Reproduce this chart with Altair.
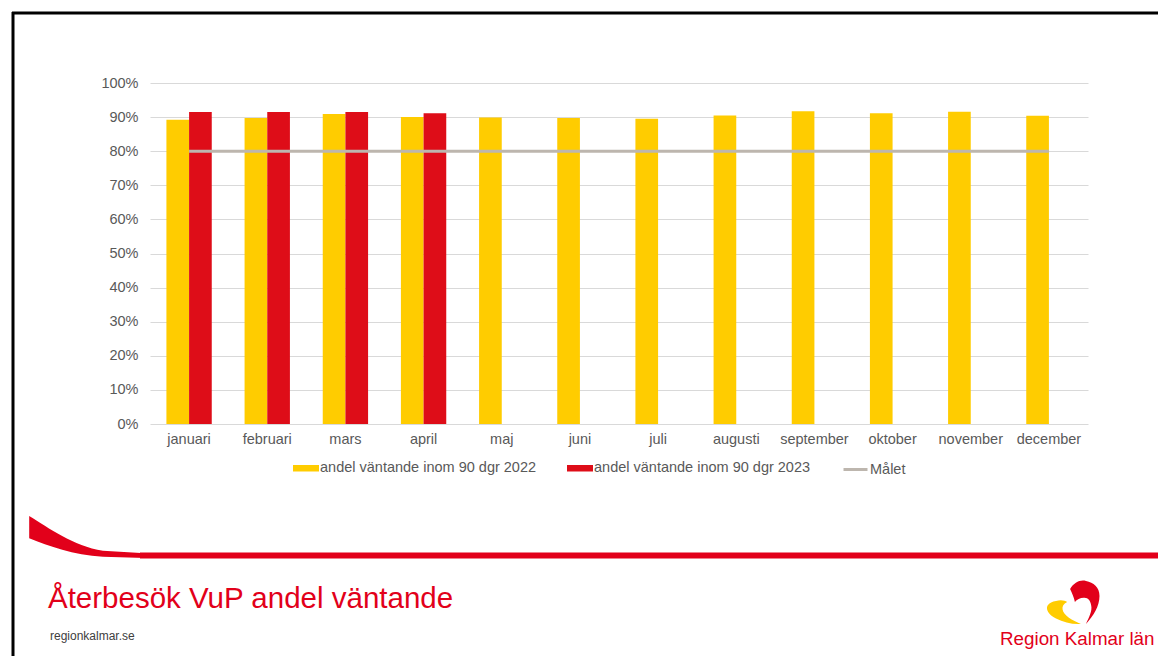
import altair as alt
import pandas as pd

# ---- data ----
months = ["januari", "februari", "mars", "april", "maj", "juni", "juli",
          "augusti", "september", "oktober", "november", "december"]
v2022 = [89.2, 89.7, 90.9, 90.0, 89.9, 89.7, 89.5, 90.5, 91.7, 91.1, 91.6, 90.4]
v2023 = [91.5, 91.5, 91.5, 91.1]
goal = [80] * 12
lab2022 = "andel väntande inom 90 dgr 2022"
lab2023 = "andel väntande inom 90 dgr 2023"
labgoal = "Målet"
y_ticks = list(range(0, 101, 10))

title_text = "Återbesök VuP andel väntande"
site_text = "regionkalmar.se"
logo_text = "Region Kalmar län"

YELLOW = "#FFCC00"
RED = "#DE0D18"
BRAND_RED = "#E2001A"
GREY = "#BDB6AE"
FONT = "Liberation Sans"

rows = []
for m, v in zip(months, v2022):
    rows.append({"month": m, "year": "2022", "serie": lab2022, "value": v})
for m, v in zip(months, v2023):
    rows.append({"month": m, "year": "2023", "serie": lab2023, "value": v})
bars_df = pd.DataFrame(rows)
goal_df = pd.DataFrame({"month": months, "value": goal, "serie": [labgoal] * 12})

W, H = 938, 341


def x_enc():
    return alt.X("month:N", sort=months,
                 scale=alt.Scale(paddingInner=0.42, paddingOuter=0.21),
                 axis=alt.Axis(title=None, labelAngle=0, ticks=False, domain=False,
                               grid=False, labelPadding=8, labelFontSize=14.5,
                               labelColor="#595959", labelFont=FONT))


def y_enc():
    return alt.Y("value:Q", scale=alt.Scale(domain=[0, 100], nice=False),
                 axis=alt.Axis(title=None, values=y_ticks, labelExpr="datum.value + '%'",
                               ticks=False, domain=False, grid=True, gridColor="#D9D9D9",
                               gridWidth=1, labelPadding=12, labelFontSize=14.5,
                               labelOverlap=False, labelColor="#595959", labelFont=FONT))


bars = alt.Chart(bars_df).mark_bar().encode(
    x=x_enc(),
    xOffset=alt.XOffset("year:N", scale=alt.Scale(domain=["2022", "2023"],
                                                  paddingInner=0, paddingOuter=0)),
    y=y_enc(),
    fill=alt.Fill("serie:N", scale=alt.Scale(domain=[lab2022, lab2023], range=[YELLOW, RED]),
                  legend=alt.Legend(title=None, orient="none", legendX=143, legendY=372,
                                    direction="horizontal", columns=2, columnPadding=30,
                                    symbolType="M-1,-0.25H1V0.25H-1Z", symbolSize=676,
                                    symbolStrokeWidth=0, labelOffset=1, padding=0,
                                    labelLimit=0, labelFontSize=14.5,
                                    labelColor="#595959", labelFont=FONT)),
)

line = alt.Chart(goal_df).mark_line(strokeWidth=3).encode(
    x=x_enc(),
    y=y_enc(),
    stroke=alt.Stroke("serie:N", scale=alt.Scale(domain=[labgoal], range=[GREY]),
                      legend=alt.Legend(title=None, orient="none", legendX=692, legendY=373,
                                        symbolType="stroke", symbolSize=576,
                                        symbolStrokeWidth=3, labelOffset=1, padding=0,
                                        labelLimit=0, labelFontSize=14.5,
                                        labelColor="#595959", labelFont=FONT)),
)

one = pd.DataFrame({"t": [""]})

border_top = alt.Chart(one).mark_rule(color="black", strokeWidth=3).encode(
    x=alt.value(-138), x2=alt.value(1020), y=alt.value(-70))
border_left = alt.Chart(one).mark_rule(color="black", strokeWidth=3).encode(
    x=alt.value(-137), y=alt.value(-71), y2=alt.value(590))

swoosh_path = ("M-0.93,-0.35 C-0.6,-0.15 -0.2,0.15 0.3,0.23 L1,0.27 L1,0.35 L0.3,0.33 "
               "C-0.2,0.3 -0.6,0.15 -0.93,0.02 Z")
swoosh = alt.Chart(one).mark_point(shape=swoosh_path, size=14400, filled=True,
                                   color=BRAND_RED, opacity=1, strokeWidth=0).encode(
    x=alt.value(-65), y=alt.value(454))
band = alt.Chart(one).mark_rule(color=BRAND_RED, strokeWidth=6).encode(
    x=alt.value(-10), x2=alt.value(1020), y=alt.value(472.5))

title = alt.Chart(pd.DataFrame({"t": [title_text]})).mark_text(
    align="left", baseline="alphabetic", fontSize=29.5, font=FONT, color=BRAND_RED).encode(
    text="t:N", x=alt.value(-102), y=alt.value(525))
site = alt.Chart(pd.DataFrame({"t": [site_text]})).mark_text(
    align="left", baseline="alphabetic", fontSize=12, font=FONT, color="#404040").encode(
    text="t:N", x=alt.value(-100), y=alt.value(557))
logo_txt = alt.Chart(pd.DataFrame({"t": [logo_text]})).mark_text(
    align="left", baseline="alphabetic", fontSize=18.8, font=FONT, color=BRAND_RED).encode(
    text="t:N", x=alt.value(850), y=alt.value(562))

red_heart = ("M-0.03,-0.53 C0.1,-0.75 0.3,-0.85 0.5,-0.8 C0.75,-0.75 0.95,-0.6 0.95,-0.3 "
             "C0.95,0.05 0.75,0.35 0.5,0.63 C0.6,0.4 0.72,0.2 0.67,0.0 "
             "C0.64,-0.15 0.58,-0.23 0.45,-0.24 C0.32,-0.25 0.2,-0.18 0.13,-0.1 "
             "C0.1,-0.25 0.03,-0.4 -0.03,-0.53 Z")
yellow_heart = ("M-0.5,-0.13 C-0.35,-0.18 -0.2,-0.15 -0.13,-0.1 C-0.25,-0.05 -0.3,0.05 -0.28,0.15 "
                "C-0.25,0.35 0.05,0.52 0.33,0.63 C0.05,0.65 -0.25,0.58 -0.5,0.45 "
                "C-0.75,0.33 -0.85,0.15 -0.78,0.02 C-0.72,-0.07 -0.62,-0.11 -0.5,-0.13 Z")
logo_red = alt.Chart(one).mark_point(shape=red_heart, size=3600, filled=True,
                                     color=BRAND_RED, opacity=1, strokeWidth=0).encode(
    x=alt.value(921), y=alt.value(522))
logo_yellow = alt.Chart(one).mark_point(shape=yellow_heart, size=3600, filled=True,
                                        color=YELLOW, opacity=1, strokeWidth=0).encode(
    x=alt.value(921), y=alt.value(522))

chart = alt.layer(
    bars, line, border_top, border_left, swoosh, band, title, site,
    logo_yellow, logo_red, logo_txt
).resolve_scale(fill="independent", stroke="independent").properties(
    width=W, height=H,
    autosize="none",
    padding={"left": 142, "top": 75, "right": 70, "bottom": 232},
    background="white",
).configure_view(stroke=None)

chart.save("out.html", embed_options={"renderer": "svg", "actions": False})
